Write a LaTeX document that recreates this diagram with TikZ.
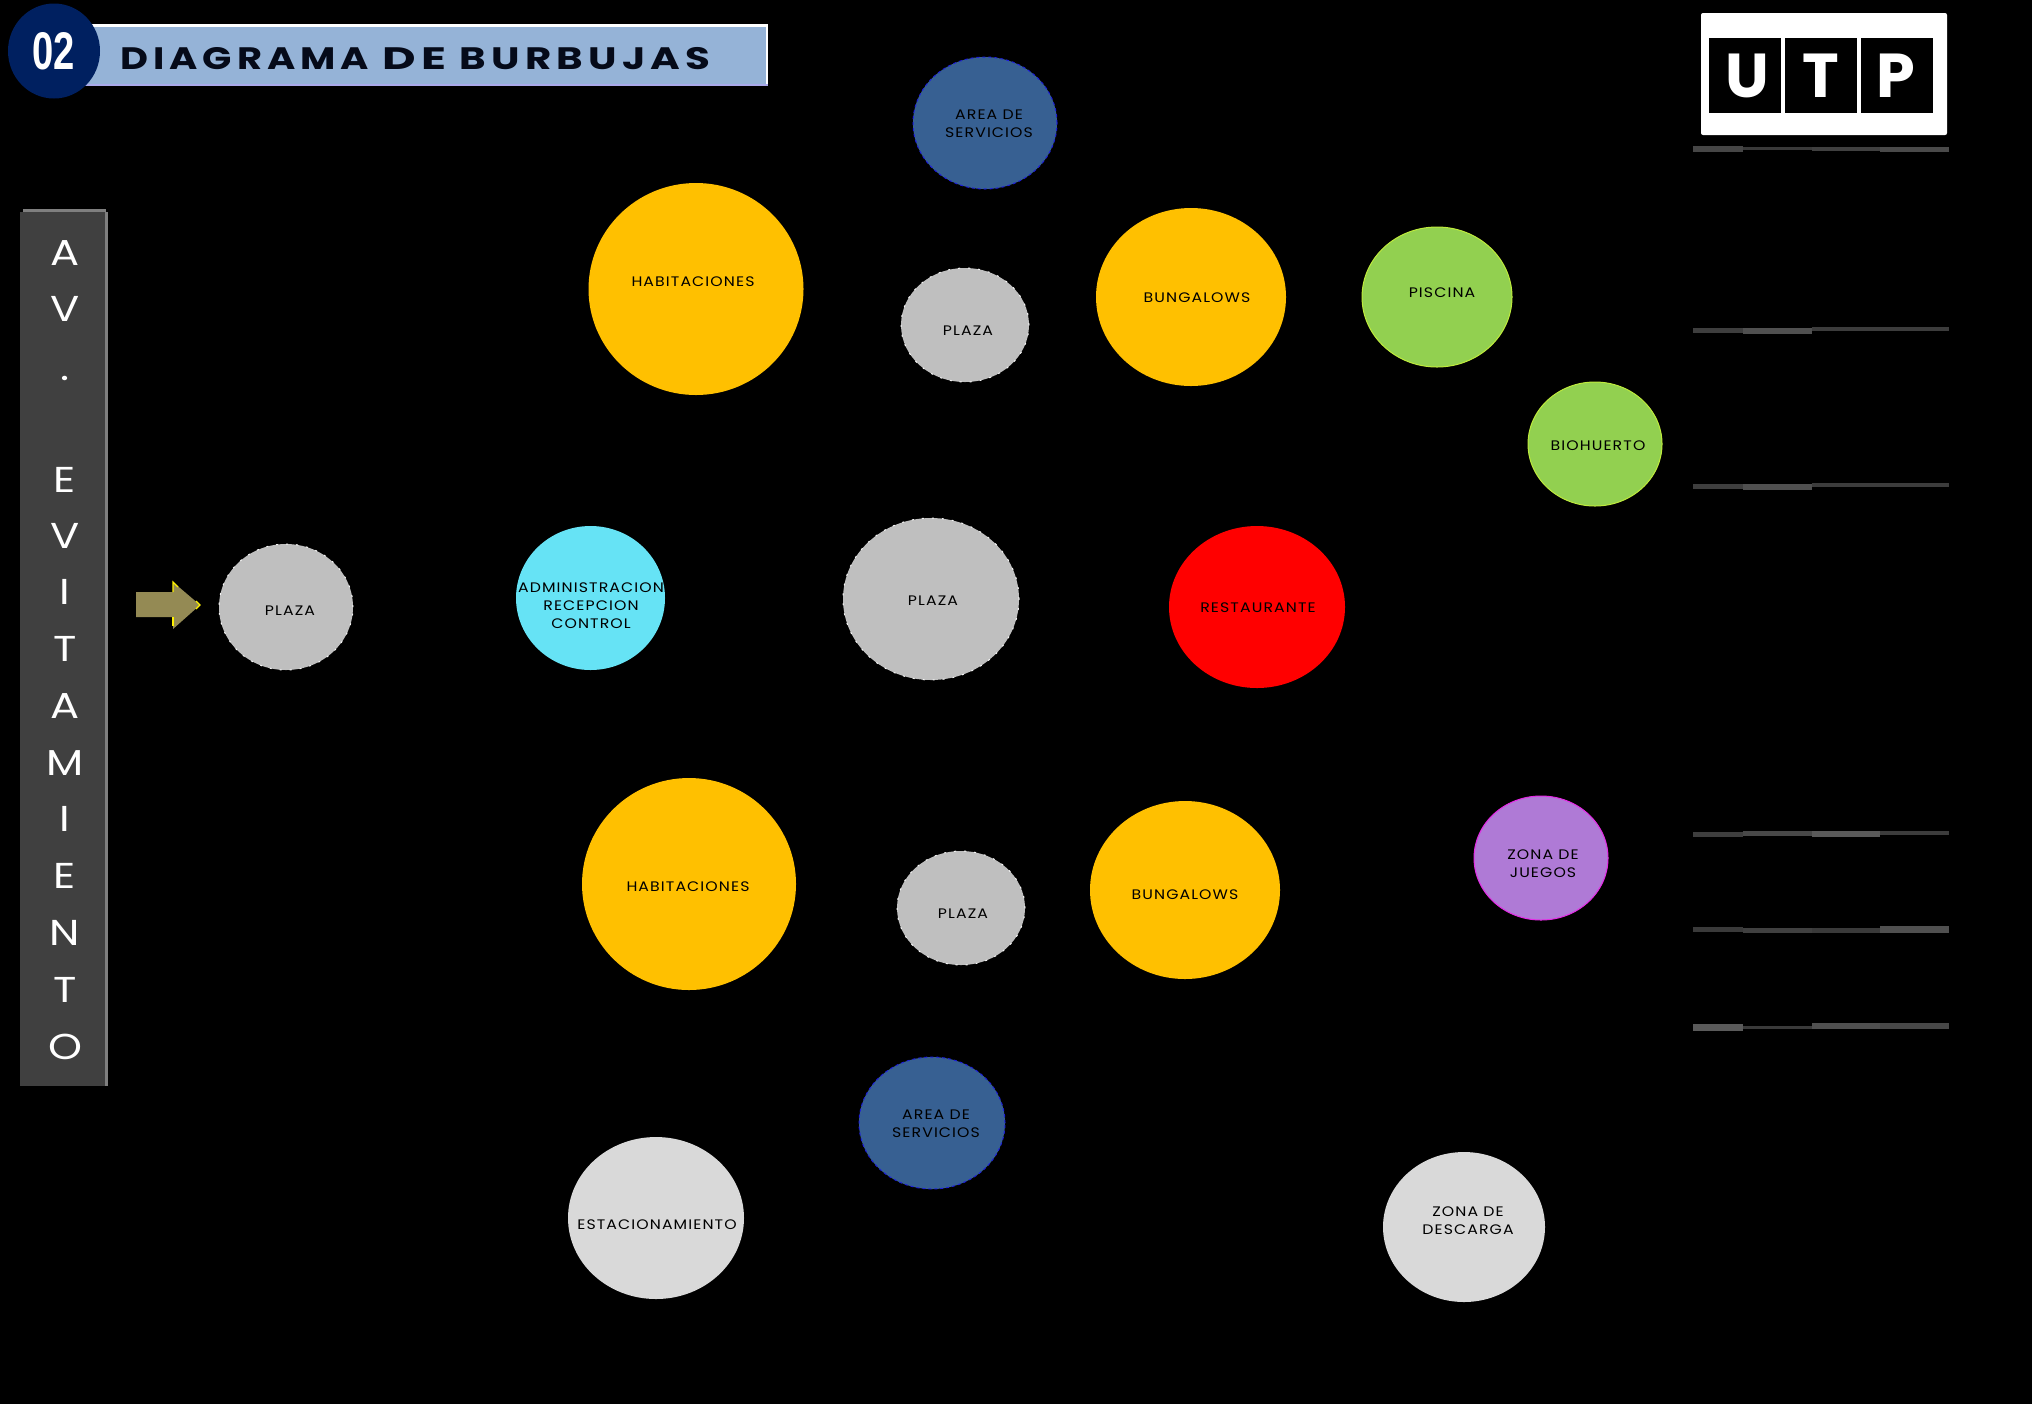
\documentclass[tikz,border=0pt]{standalone}
\usepackage{fontspec}
\usetikzlibrary{shapes.geometric}
\setmainfont{Poppins}
\newfontfamily\lblfont{Poppins}[LetterSpace=8,FakeStretch=1.14]
\newfontfamily\ttlfont{Poppins}[LetterSpace=16,FakeStretch=1.24]
\newfontfamily\numfont{Liberation Sans}[FakeStretch=0.72]
\newfontfamily\barfont{Poppins}[FakeStretch=1.2]
\definecolor{bggold}{HTML}{FFC000}
\definecolor{bggray}{HTML}{BFBFBF}
\definecolor{bgblue}{HTML}{376092}
\definecolor{bggreen}{HTML}{92D050}
\definecolor{bgcyan}{HTML}{66E3F5}
\definecolor{bgred}{HTML}{FF0000}
\definecolor{bgpurple}{HTML}{AF7AD6}
\definecolor{bglight}{HTML}{D9D9D9}
\definecolor{barfill}{HTML}{404040}
\definecolor{baredge}{HTML}{7F7F7F}
\definecolor{titlebar}{HTML}{95B3D7}
\definecolor{titleedge}{HTML}{AAAAEB}
\definecolor{titleink}{HTML}{050A19}
\definecolor{navy}{HTML}{002060}
\definecolor{olivearrow}{HTML}{948A54}
\definecolor{blueedge}{HTML}{1E1EDC}
\definecolor{greenedge}{HTML}{BEEB3C}
\definecolor{purpleedge}{HTML}{E628E6}
\tikzset{
  bubble/.style={ellipse,inner sep=0pt,line width=0.5pt},
  goldb/.style={bubble,fill=bggold},
  grayb/.style={bubble,fill=bggray,draw=white!85!bggray,dash pattern=on 1pt off 4pt},
  blueb/.style={bubble,fill=bgblue,draw=blueedge,dash pattern=on 1.5pt off 1.5pt},
  greenb/.style={bubble,fill=bggreen,draw=greenedge},
  cyanb/.style={bubble,fill=bgcyan},
  redb/.style={bubble,fill=bgred},
  purpleb/.style={bubble,fill=bgpurple,draw=purpleedge},
  lightb/.style={bubble,fill=bglight},
  lbl/.style={inner sep=0pt,align=center,text=black,font=\lblfont\fontsize{6.9}{9}\selectfont},
  barletter/.style={inner sep=0pt,anchor=base,text=white,font=\barfont\fontsize{18}{18}\selectfont},
  logoletter/.style={inner sep=0pt,anchor=base,text=white,font=\bfseries\fontsize{31}{31}\selectfont},
}
\newcommand{\bub}[9]{%
  \node[#2,minimum width=#5pt,minimum height=#6pt] (#1) at (#3,#4) {};
  \node[lbl] (#1t) at (#7,#8+1.5) {#9};}
\newcommand{\seg}[5]{\fill[#5] (#1,#3) rectangle (#2,#4);}
\begin{document}
\begin{tikzpicture}[x=0.5pt,y=-0.5pt]
\useasboundingbox (0,0) rectangle (2032,1404);
\fill[black] (0,0) rectangle (2032,1404);
% header
\fill[white] (88,24) rectangle (768,86);
\fill[titlebar] (84,26.5) rectangle (766,84);
\fill[titleedge] (84,84) rectangle (768,86);
\node[ellipse,fill=navy,inner sep=0pt,minimum width=46pt,minimum height=47.5pt] (num) at (54,51) {};
\node[inner sep=0pt,text=white] (numt) at (54,51) {\numfont\bfseries\fontsize{26.5}{26.5}\selectfont 02};
\node[inner sep=0pt,anchor=base west,text=titleink] (title) at (120,69) {\ttlfont\bfseries\fontsize{15.5}{16}\selectfont DIAGRAMA \scalebox{1.2}[1]{DE} \scalebox{1.05}[1]{BURBUJAS}};
% logo
\fill[white,rounded corners=1pt] (1701,13) rectangle (1947,135);
\fill[black] (1709,38) rectangle (1781,113);
\fill[black] (1785,38) rectangle (1857,113);
\fill[black] (1861,38) rectangle (1933,113);
\node[logoletter] (lu) at (1747,97) {U};
\node[logoletter] (lt) at (1821,97) {T};
\node[logoletter] (lp) at (1896,97) {P};
% right rules
\foreach \ya/\yb/\yc/\yd/\ye/\yf/\yg/\yh/\ca/\cb/\cc/\cd in {
 146/152/147/150/147/151/147/152/464646/3A3A3A/404040/4A4A4A,
 328/333/328/334/327/331/327/331/3E3E3E/505050/3C3C3C/3C3C3C,
 484/489/484/490/483/487/483/487/3E3E3E/505050/3C3C3C/3C3C3C,
 832/837/831/836/831/837/831/835/3E3E3E/484848/5A5A5A/3C3C3C,
 927/932/928/933/928/933/926/933/3A3A3A/404040/3A3A3A/505050,
 1024/1031/1026/1029/1023/1029/1023/1029/5A5A5A/3A3A3A/505050/484848}{
  \definecolor{ra}{HTML}{\ca}\definecolor{rb}{HTML}{\cb}\definecolor{rc}{HTML}{\cc}\definecolor{rd}{HTML}{\cd}
  \seg{1693}{1743}{\ya}{\yb}{ra}
  \seg{1743}{1812}{\yc}{\yd}{rb}
  \seg{1812}{1880}{\ye}{\yf}{rc}
  \seg{1880}{1949}{\yg}{\yh}{rd}
}
% avenue bar
\fill[baredge] (23,209) rectangle (106,214);
\fill[barfill] (20,212) rectangle (105,1086);
\fill[baredge] (105,212) rectangle (108,1086);
\foreach \ch/\yy [count=\i] in {A/265,V/321,./380,E/492,V/548,I/604,T/661,A/718,M/775,I/831,E/888,N/945,T/1002,O/1059}{
  \node[barletter] (bar\i) at (65,\yy) {\ch};
}
% arrow
\fill[olivearrow] (136,592) -- (173,592) -- (173,582) -- (200,605) -- (173,629) -- (173,617) -- (136,617) -- cycle;
\draw[yellow,line width=0.6pt] (173,592) -- (173,582) -- (178,587);
\draw[yellow,line width=0.6pt] (173,617) -- (173,626);
\draw[yellow,line width=0.6pt] (196,601) -- (200,605) -- (196,609);
% bubbles
\bub{area1}{blueb}{985}{123}{72}{66}{989}{122}{AREA DE\\SERVICIOS}
\bub{hab1}{goldb}{696}{289}{107.5}{106}{693}{280}{HABITACIONES}
\bub{pla1}{grayb}{965}{325}{64}{57}{968}{329}{PLAZA}
\bub{bun1}{goldb}{1191}{297}{95}{89}{1197}{296}{BUNGALOWS}
\bub{pis}{greenb}{1437}{297}{75}{70}{1442}{291}{PISCINA}
\bub{bio}{greenb}{1595}{444}{67}{62}{1598}{444}{BIOHUERTO}
\bub{pla0}{grayb}{286}{607}{67}{63}{290}{609}{PLAZA}
\bub{adm}{cyanb}{590.5}{598}{74.5}{72}{591}{604}{ADMINISTRACION\\RECEPCION\\CONTROL}
\bub{pla2}{grayb}{931}{599}{88}{81}{933}{599}{PLAZA}
\bub{res}{redb}{1257}{607}{88}{81}{1258}{606}{RESTAURANTE}
\bub{hab2}{goldb}{689}{884}{107}{106}{688}{885}{HABITACIONES}
\bub{pla3}{grayb}{961}{908}{64}{57}{963}{912}{PLAZA}
\bub{bun2}{goldb}{1185}{890}{95}{89}{1185}{893}{BUNGALOWS}
\bub{jue}{purpleb}{1541}{858}{67}{62}{1543}{862}{ZONA DE\\JUEGOS}
\bub{area2}{blueb}{932}{1123}{73}{66}{936}{1122}{AREA DE\\SERVICIOS}
\bub{est}{lightb}{656}{1218}{88}{81}{657}{1223}{ESTACIONAMIENTO}
\bub{des}{lightb}{1464}{1227}{81}{75}{1468}{1219}{ZONA DE\\DESCARGA}
\end{tikzpicture}
\end{document}
